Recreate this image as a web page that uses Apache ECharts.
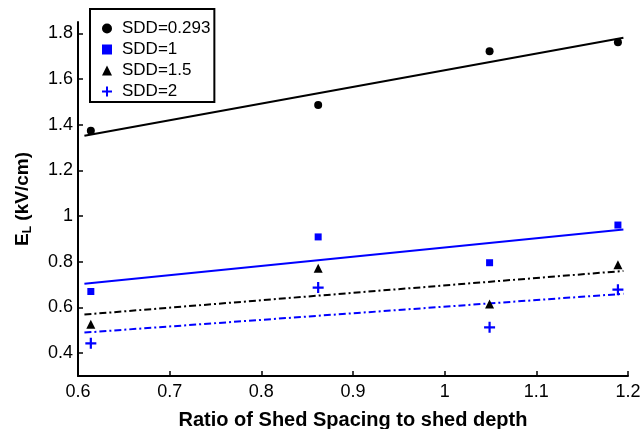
<!DOCTYPE html>
<html>
<head>
<meta charset="utf-8">
<script src="https://cdn.jsdelivr.net/npm/echarts@6/dist/echarts.min.js"></script>
<style>
  html, body { margin: 0; padding: 0; background: #fff; }
  #chart { width: 644px; height: 429px; }
</style>
</head>
<body>
<div id="chart"></div>
<script>
// ratio of shed spacing to shed depth (x positions of the measured points)
var ratios = [0.614, 0.862, 1.049, 1.189];

// measured E_L values (kV/cm)
var sdd0293 = [1.374, 1.487, 1.722, 1.761];
var sdd1 = [0.670, 0.909, 0.796, 0.961];
var sdd15 = [0.527, 0.772, 0.615, 0.787];
var sdd2 = [0.443, 0.687, 0.513, 0.678];

// fitted line end points: [x, y]
var fit0293 = [[0.607, 1.352], [1.195, 1.781]];
var fit1 = [[0.607, 0.704], [1.195, 0.941]];
var fit15 = [[0.607, 0.569], [1.195, 0.760]];
var fit2 = [[0.607, 0.490], [1.195, 0.660]];

var yTicks = [0.4, 0.6, 0.8, 1.0, 1.2, 1.4, 1.6, 1.8];

var FONT = 'Liberation Sans';
var BLUE = '#0000ff';
var PLUS = 'path://M4,0H6V4H10V6H6V10H4V6H0V4H4Z';

function pts(ys) {
  return ratios.map(function (x, i) { return [x, ys[i]]; });
}

var myChart = echarts.init(document.getElementById('chart'));
myChart.setOption({
  animation: false,
  textStyle: { fontFamily: FONT },
  grid: { left: 78, right: 16, top: 22, bottom: 53, outerBoundsMode: 'none' },
  legend: {
    orient: 'vertical',
    left: 90,
    top: 9,
    data: ['SDD=0.293', 'SDD=1', 'SDD=1.5', 'SDD=2'],
    backgroundColor: '#fff',
    borderColor: '#000',
    borderWidth: 2,
    padding: [11, 4, 2, 12],
    itemWidth: 10,
    itemHeight: 10,
    itemGap: 4,
    textStyle: { fontFamily: FONT, fontSize: 17, color: '#000', padding: [0, 0, 0, 5] }
  },
  xAxis: {
    type: 'value',
    min: 0.6,
    max: 1.2,
    interval: 0.1,
    name: 'Ratio of Shed Spacing to shed depth',
    nameLocation: 'middle',
    nameGap: 34,
    nameTextStyle: { fontFamily: FONT, fontSize: 20, fontWeight: 'bold', color: '#000' },
    axisLine: { lineStyle: { color: '#000', width: 2 } },
    axisTick: { inside: true, length: 5, lineStyle: { color: '#000', width: 1.5 } },
    axisLabel: { fontSize: 18, color: '#000', margin: 7 },
    splitLine: { show: false }
  },
  yAxis: {
    type: 'value',
    min: 0.3,
    max: 1.85,
    name: '{e|E}{l|L}{t| (kV/cm)}',
    nameLocation: 'middle',
    nameRotate: 90,
    nameGap: 44,
    nameTextStyle: {
      fontFamily: FONT, fontSize: 19, fontWeight: 'bold', color: '#000',
      rich: {
        e: { fontFamily: FONT, fontSize: 19, fontWeight: 'bold', color: '#000' },
        l: { fontFamily: FONT, fontSize: 12, fontWeight: 'bold', color: '#000', padding: [10, 0, 0, 0] },
        t: { fontFamily: FONT, fontSize: 19, fontWeight: 'bold', color: '#000' }
      }
    },
    axisLine: { lineStyle: { color: '#000', width: 2 } },
    axisTick: { inside: true, length: 5, customValues: yTicks, lineStyle: { color: '#000', width: 1.5 } },
    axisLabel: { fontSize: 18, color: '#000', margin: 5, customValues: yTicks },
    splitLine: { show: false }
  },
  series: [
    {
      name: 'SDD=0.293', type: 'scatter', data: pts(sdd0293),
      symbol: 'circle', symbolSize: 8, itemStyle: { color: '#000', opacity: 1 }
    },
    {
      name: 'SDD=1', type: 'scatter', data: pts(sdd1),
      symbol: 'rect', symbolSize: 7, itemStyle: { color: BLUE, opacity: 1 }
    },
    {
      name: 'SDD=1.5', type: 'scatter', data: pts(sdd15),
      symbol: 'triangle', symbolSize: 9, itemStyle: { color: '#000', opacity: 1 }
    },
    {
      name: 'SDD=2', type: 'scatter', data: pts(sdd2),
      symbol: PLUS, symbolSize: 11, itemStyle: { color: BLUE, opacity: 1 }
    },
    {
      type: 'line', data: fit0293, symbol: 'none', z: 1,
      lineStyle: { color: '#000', width: 2 }
    },
    {
      type: 'line', data: fit1, symbol: 'none', z: 1,
      lineStyle: { color: BLUE, width: 2 }
    },
    {
      type: 'line', data: fit15, symbol: 'none', z: 1,
      lineStyle: { color: '#000', width: 2, type: [7, 3, 2, 3] }
    },
    {
      type: 'line', data: fit2, symbol: 'none', z: 1,
      lineStyle: { color: BLUE, width: 2, type: [7, 3, 2, 3] }
    }
  ]
});
</script>
</body>
</html>
